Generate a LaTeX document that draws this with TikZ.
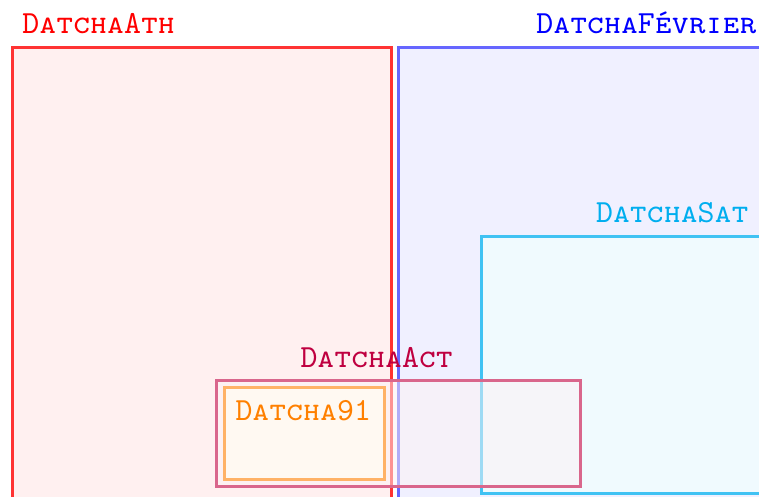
\documentclass[tikz,border=0pt]{standalone}
\usepackage{tikz}
\definecolor{satblue}{HTML}{00AEEF}
\tikzset{
  zone/.style={line width=1.2pt},
  zonelabel/.style={font=\fontsize{12.9}{15}\selectfont\ttfamily\scshape, inner sep=0pt}
}
\begin{document}
\begin{tikzpicture}[x=0.4pt,y=-0.4pt]
  \useasboundingbox (0,0) rectangle (759,496);
  \clip (0,0) rectangle (759,496);
  % grands ensembles
  \draw[zone, red!80, fill=red!6] (12,47) rectangle (391,520);
  \node[zonelabel, red, anchor=base west] (ath) at (22,33) {DatchaAth};
  \draw[zone, blue!60, fill=blue!6] (398,47) rectangle (770,520);
  \node[zonelabel, blue, anchor=base east] (fev) at (757,33) {DatchaFévrier};
  \draw[zone, satblue!75, fill=satblue!6] (481,236) rectangle (762,493);
  \node[zonelabel, satblue, anchor=base east] (sat) at (749,222) {DatchaSat};
  % sous-ensembles
  \draw[zone, purple!60, fill=purple!5, fill opacity=0.5] (216,380) rectangle (580,486);
  \node[zonelabel, purple, anchor=base west] (act) at (300,367) {DatchaAct};
  \draw[zone, orange!60, fill=orange!5] (224,387) rectangle (384,479);
  \node[zonelabel, orange, anchor=base west] (d91) at (235,420) {Datcha91};
\end{tikzpicture}
\end{document}
